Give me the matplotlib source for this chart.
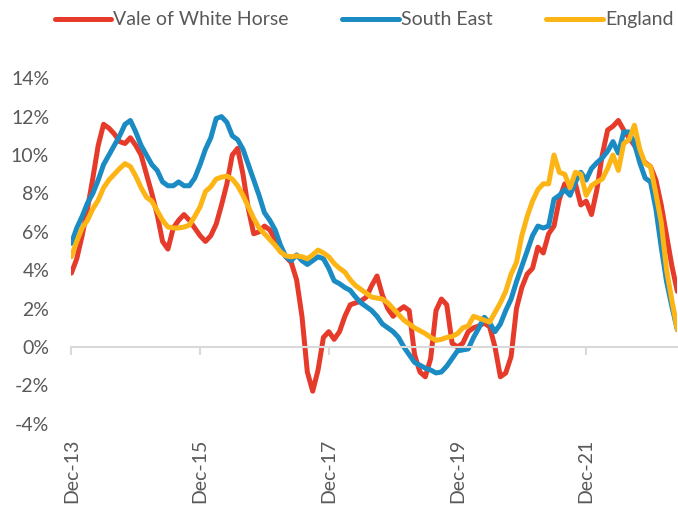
import numpy as np
import pandas as pd
import matplotlib
matplotlib.use("Agg")
import matplotlib.pyplot as plt

# Annual house price change, monthly from Dec-13 to May-23 (values in %)
months = pd.date_range("2013-12-01", periods=114, freq="MS")

vale = [3.85, 4.6, 5.8, 7.2, 8.8, 10.5, 11.6, 11.4, 11.1, 10.7,
        10.6, 10.9, 10.5, 10.0, 9.0, 8.0, 6.9, 5.5, 5.1, 6.2,
        6.6, 6.9, 6.6, 6.2, 5.8, 5.5, 5.8, 6.4, 7.4, 8.5,
        10.0, 10.35, 9.0, 7.2, 5.9, 6.0, 6.3, 6.1, 5.6, 5.1,
        4.7, 4.4, 3.5, 1.6, -1.3, -2.3, -1.2, 0.5, 0.8, 0.4,
        0.8, 1.6, 2.2, 2.3, 2.4, 2.6, 3.2, 3.7, 2.7, 2.0,
        1.6, 1.9, 2.1, 1.9, -0.4, -1.3, -1.55, -0.6, 1.9, 2.5,
        2.2, 0.2, 0.0, 0.2, 0.8, 1.0, 1.1, 1.25, 1.05, 0.0,
        -1.55, -1.35, -0.5, 2.0, 3.1, 3.8, 4.1, 5.2, 4.9, 5.9,
        6.3, 7.7, 8.5, 8.3, 8.5, 7.4, 7.6, 6.9, 8.2, 10.0,
        11.3, 11.5, 11.8, 11.3, 10.9, 10.5, 10.0, 9.6, 9.4, 8.7,
        7.4, 5.8, 4.2, 2.9]

south_east = [5.4, 6.2, 6.8, 7.5, 8.0, 8.7, 9.5, 10.0, 10.5, 11.0,
              11.6, 11.8, 11.2, 10.5, 10.0, 9.5, 9.2, 8.6, 8.4, 8.4,
              8.6, 8.4, 8.4, 8.8, 9.5, 10.3, 10.9, 11.9, 12.0, 11.7,
              11.0, 10.8, 10.3, 9.5, 8.7, 7.9, 7.0, 6.6, 6.1, 5.3,
              4.7, 4.5, 4.8, 4.5, 4.3, 4.5, 4.7, 4.6, 4.1, 3.45,
              3.3, 3.1, 2.95, 2.6, 2.3, 2.1, 1.9, 1.6, 1.2, 1.0,
              0.8, 0.5, 0.0, -0.4, -0.8, -0.95, -1.1, -1.2, -1.35, -1.3,
              -1.0, -0.6, -0.2, -0.15, -0.1, 0.5, 1.0, 1.55, 1.25, 0.8,
              1.2, 1.9, 2.5, 3.4, 4.2, 5.0, 5.8, 6.3, 6.2, 6.3,
              7.7, 7.9, 8.2, 7.9, 8.6, 9.1, 8.7, 9.3, 9.6, 9.85,
              10.2, 10.7, 10.1, 11.2, 11.2, 10.6, 9.6, 8.8, 8.6, 7.2,
              5.2, 3.4, 2.1, 0.9]

england = [4.7, 5.5, 6.2, 6.6, 7.2, 7.65, 8.3, 8.7, 9.0, 9.3,
           9.55, 9.4, 8.9, 8.3, 7.8, 7.6, 7.1, 6.6, 6.25, 6.2,
           6.2, 6.25, 6.35, 6.8, 7.3, 8.1, 8.35, 8.75, 8.85, 8.9,
           8.75, 8.4, 7.9, 7.3, 6.7, 6.2, 5.9, 5.6, 5.3, 4.95,
           4.75, 4.7, 4.75, 4.7, 4.6, 4.8, 5.05, 4.9, 4.7, 4.35,
           4.1, 3.9, 3.5, 3.2, 3.0, 2.8, 2.6, 2.55, 2.5, 2.3,
           2.0, 1.7, 1.4, 1.2, 1.0, 0.85, 0.7, 0.5, 0.35, 0.4,
           0.5, 0.55, 0.7, 1.0, 1.1, 1.6, 1.5, 1.4, 1.3, 1.8,
           2.3, 2.9, 3.8, 4.4, 5.8, 6.8, 7.6, 8.2, 8.5, 8.5,
           10.0, 9.1, 9.0, 8.3, 9.1, 9.0, 7.9, 8.4, 8.6, 8.75,
           9.3, 10.0, 9.2, 10.6, 10.8, 11.55, 10.3, 9.55, 9.4, 8.0,
           6.5, 4.0, 2.4, 0.9]

names = ["Vale of White Horse", "South East", "England"]
colors = ["#E63A2A", "#1B8BC3", "#FDB415"]
grey = "#595959"

plt.rcParams["font.family"] = ["Lato", "DejaVu Sans"]

x = np.arange(len(months))
fig = plt.figure(figsize=(6.78, 5.08), dpi=100)
ax = fig.add_axes([0.1053, 0.1657, 0.8937, 0.6803])

for vals, name, c in zip([vale, south_east, england], names, colors):
    ax.plot(x, vals, color=c, lw=3.6, label=name,
            solid_joinstyle="round", solid_capstyle="round")

ax.set_xlim(0, len(x) - 1)
ax.set_ylim(-4, 14)
ax.set_yticks(np.arange(-4, 15, 2))
ax.set_yticklabels([f"{v}%" for v in range(-4, 15, 2)])
ax.tick_params(axis="y", length=0, pad=16, labelsize=14, labelcolor=grey)

# horizontal axis sits at 0% with tick marks, labels at the bottom
for s in ["top", "right", "left"]:
    ax.spines[s].set_visible(False)
ax.spines["bottom"].set_position(("data", 0))
ax.spines["bottom"].set_color("#D9D9D9")
ax.spines["bottom"].set_linewidth(1.5)
tick_pos = x[::24]
ax.set_xticks(tick_pos)
ax.tick_params(axis="x", direction="out", length=6, width=1.5,
               color="#D9D9D9", labelbottom=False)

sec = ax.secondary_xaxis("bottom")
sec.set_xticks(tick_pos)
sec.set_xticklabels([months[i].strftime("%b-%y") for i in tick_pos],
                    rotation=90)
sec.tick_params(length=0, pad=11, labelsize=14, labelcolor=grey)
sec.spines["bottom"].set_visible(False)

fig.legend(loc="upper center", bbox_to_anchor=(0.537, 1.012), ncol=3,
           frameon=False, fontsize=14, labelcolor=grey,
           handlelength=2.9, handletextpad=0.12, columnspacing=2.75)

fig.savefig("out.png", dpi=100)
